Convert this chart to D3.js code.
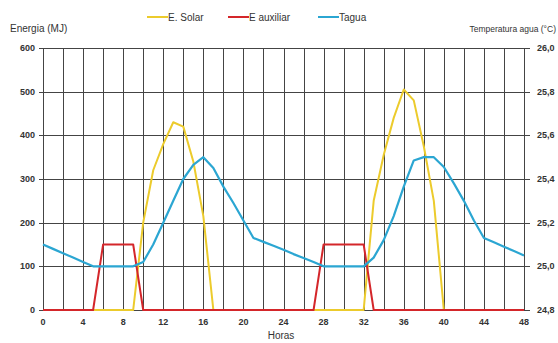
<!DOCTYPE html>
<html><head><meta charset="utf-8">
<script src="https://cdn.jsdelivr.net/npm/d3@7"></script>
<style>body{margin:0;background:#fff;font-family:"Liberation Sans",Arial,sans-serif;}</style>
</head><body><svg id="c" width="558" height="343"></svg>
<script>
const hours = d3.range(0, 49);
const solar = [0,0,0,0,0,0,0,0,0,0,200,320,380,430,420,340,215,0,0,0,0,0,0,0,0,0,0,0,0,0,0,0,0,250,355,440,505,480,375,250,0,0,0,0,0,0,0,0,0];
const auxiliar = [0,0,0,0,0,0,150,150,150,150,0,0,0,0,0,0,0,0,0,0,0,0,0,0,0,0,0,0,150,150,150,150,150,0,0,0,0,0,0,0,0,0,0,0,0,0,0,0,0];
const tagua = [25.10,25.08,25.06,25.04,25.02,25.00,25.00,25.00,25.00,25.00,25.02,25.10,25.20,25.30,25.40,25.465,25.50,25.45,25.365,25.29,25.21,25.13,25.112,25.094,25.076,25.056,25.038,25.02,25.00,25.00,25.00,25.00,25.00,25.04,25.12,25.23,25.365,25.485,25.50,25.50,25.455,25.38,25.30,25.21,25.13,25.11,25.09,25.07,25.05];
const xTicks = d3.range(0, 49, 4);
const yTicks = [0,100,200,300,400,500,600];
const tTicks = [24.8,25.0,25.2,25.4,25.6,25.8,26.0];
const seriesNames = ["E. Solar","E auxiliar","Tagua"];
const colors = ["#ECCB2C","#D4262A","#2BA6D2"];

const svg = d3.select("#c");
const L = 43, R = 524, T = 48, B = 310;
const x = d3.scaleLinear().domain([0,48]).range([L,R]);
const y = d3.scaleLinear().domain([0,600]).range([B,T]);
const yt = d3.scaleLinear().domain([24.8,26.0]).range([B,T]);

// grid
const g = svg.append("g");
g.selectAll(".vg").data(d3.range(0,49,2)).join("line")
  .attr("x1",d=>Math.round(x(d))+0.5).attr("x2",d=>Math.round(x(d))+0.5)
  .attr("y1",T).attr("y2",B).attr("stroke","#444").attr("stroke-width",1);
g.selectAll(".hg").data(yTicks).join("line")
  .attr("x1",L-4).attr("x2",R+6)
  .attr("y1",d=>Math.round(y(d))+0.5).attr("y2",d=>Math.round(y(d))+0.5)
  .attr("stroke","#444").attr("stroke-width",1);

// axes labels
svg.selectAll(".yl").data(yTicks).join("text")
  .attr("x",35).attr("y",d=>y(d)+3).attr("text-anchor","end")
  .attr("font-size",9).attr("font-weight","bold").attr("fill","#333").text(d=>d);
svg.selectAll(".tl").data(tTicks).join("text")
  .attr("x",537).attr("y",d=>yt(d)+3).attr("text-anchor","start")
  .attr("font-size",9).attr("font-weight","bold").attr("fill","#333")
  .text(d=>d3.format(".1f")(d).replace(".",","));
svg.selectAll(".xl").data(xTicks).join("text")
  .attr("x",d=>x(d)).attr("y",B+15).attr("text-anchor","middle")
  .attr("font-size",9).attr("font-weight","bold").attr("fill","#333").text(d=>d);

svg.append("text").attr("x",10).attr("y",32).attr("font-size",10).attr("fill","#333").text("Energia (MJ)");
svg.append("text").attr("x",556).attr("y",32).attr("text-anchor","end").attr("font-size",8.5).attr("fill","#333").text("Temperatura agua (°C)");
svg.append("text").attr("x",281).attr("y",339).attr("text-anchor","middle").attr("font-size",10).attr("fill","#333").text("Horas");

// lines
const line = d3.line();
svg.append("path").attr("d",line(hours.map((h,i)=>[x(h),y(solar[i])])))
  .attr("fill","none").attr("stroke",colors[0]).attr("stroke-width",2).attr("stroke-linejoin","round");
svg.append("path").attr("d",line(hours.map((h,i)=>[x(h),y(auxiliar[i])])))
  .attr("fill","none").attr("stroke",colors[1]).attr("stroke-width",2).attr("stroke-linejoin","round");
svg.append("path").attr("d",line(hours.map((h,i)=>[x(h),yt(tagua[i])])))
  .attr("fill","none").attr("stroke",colors[2]).attr("stroke-width",2.2).attr("stroke-linejoin","round");

// legend
const lx = [147,228,318];
seriesNames.forEach((n,i)=>{
  svg.append("line").attr("x1",lx[i]).attr("x2",lx[i]+21).attr("y1",17).attr("y2",17)
    .attr("stroke",colors[i]).attr("stroke-width",2);
  svg.append("text").attr("x",lx[i]+21).attr("y",21).attr("font-size",10).attr("fill","#333").text(n);
});
</script></body></html>
